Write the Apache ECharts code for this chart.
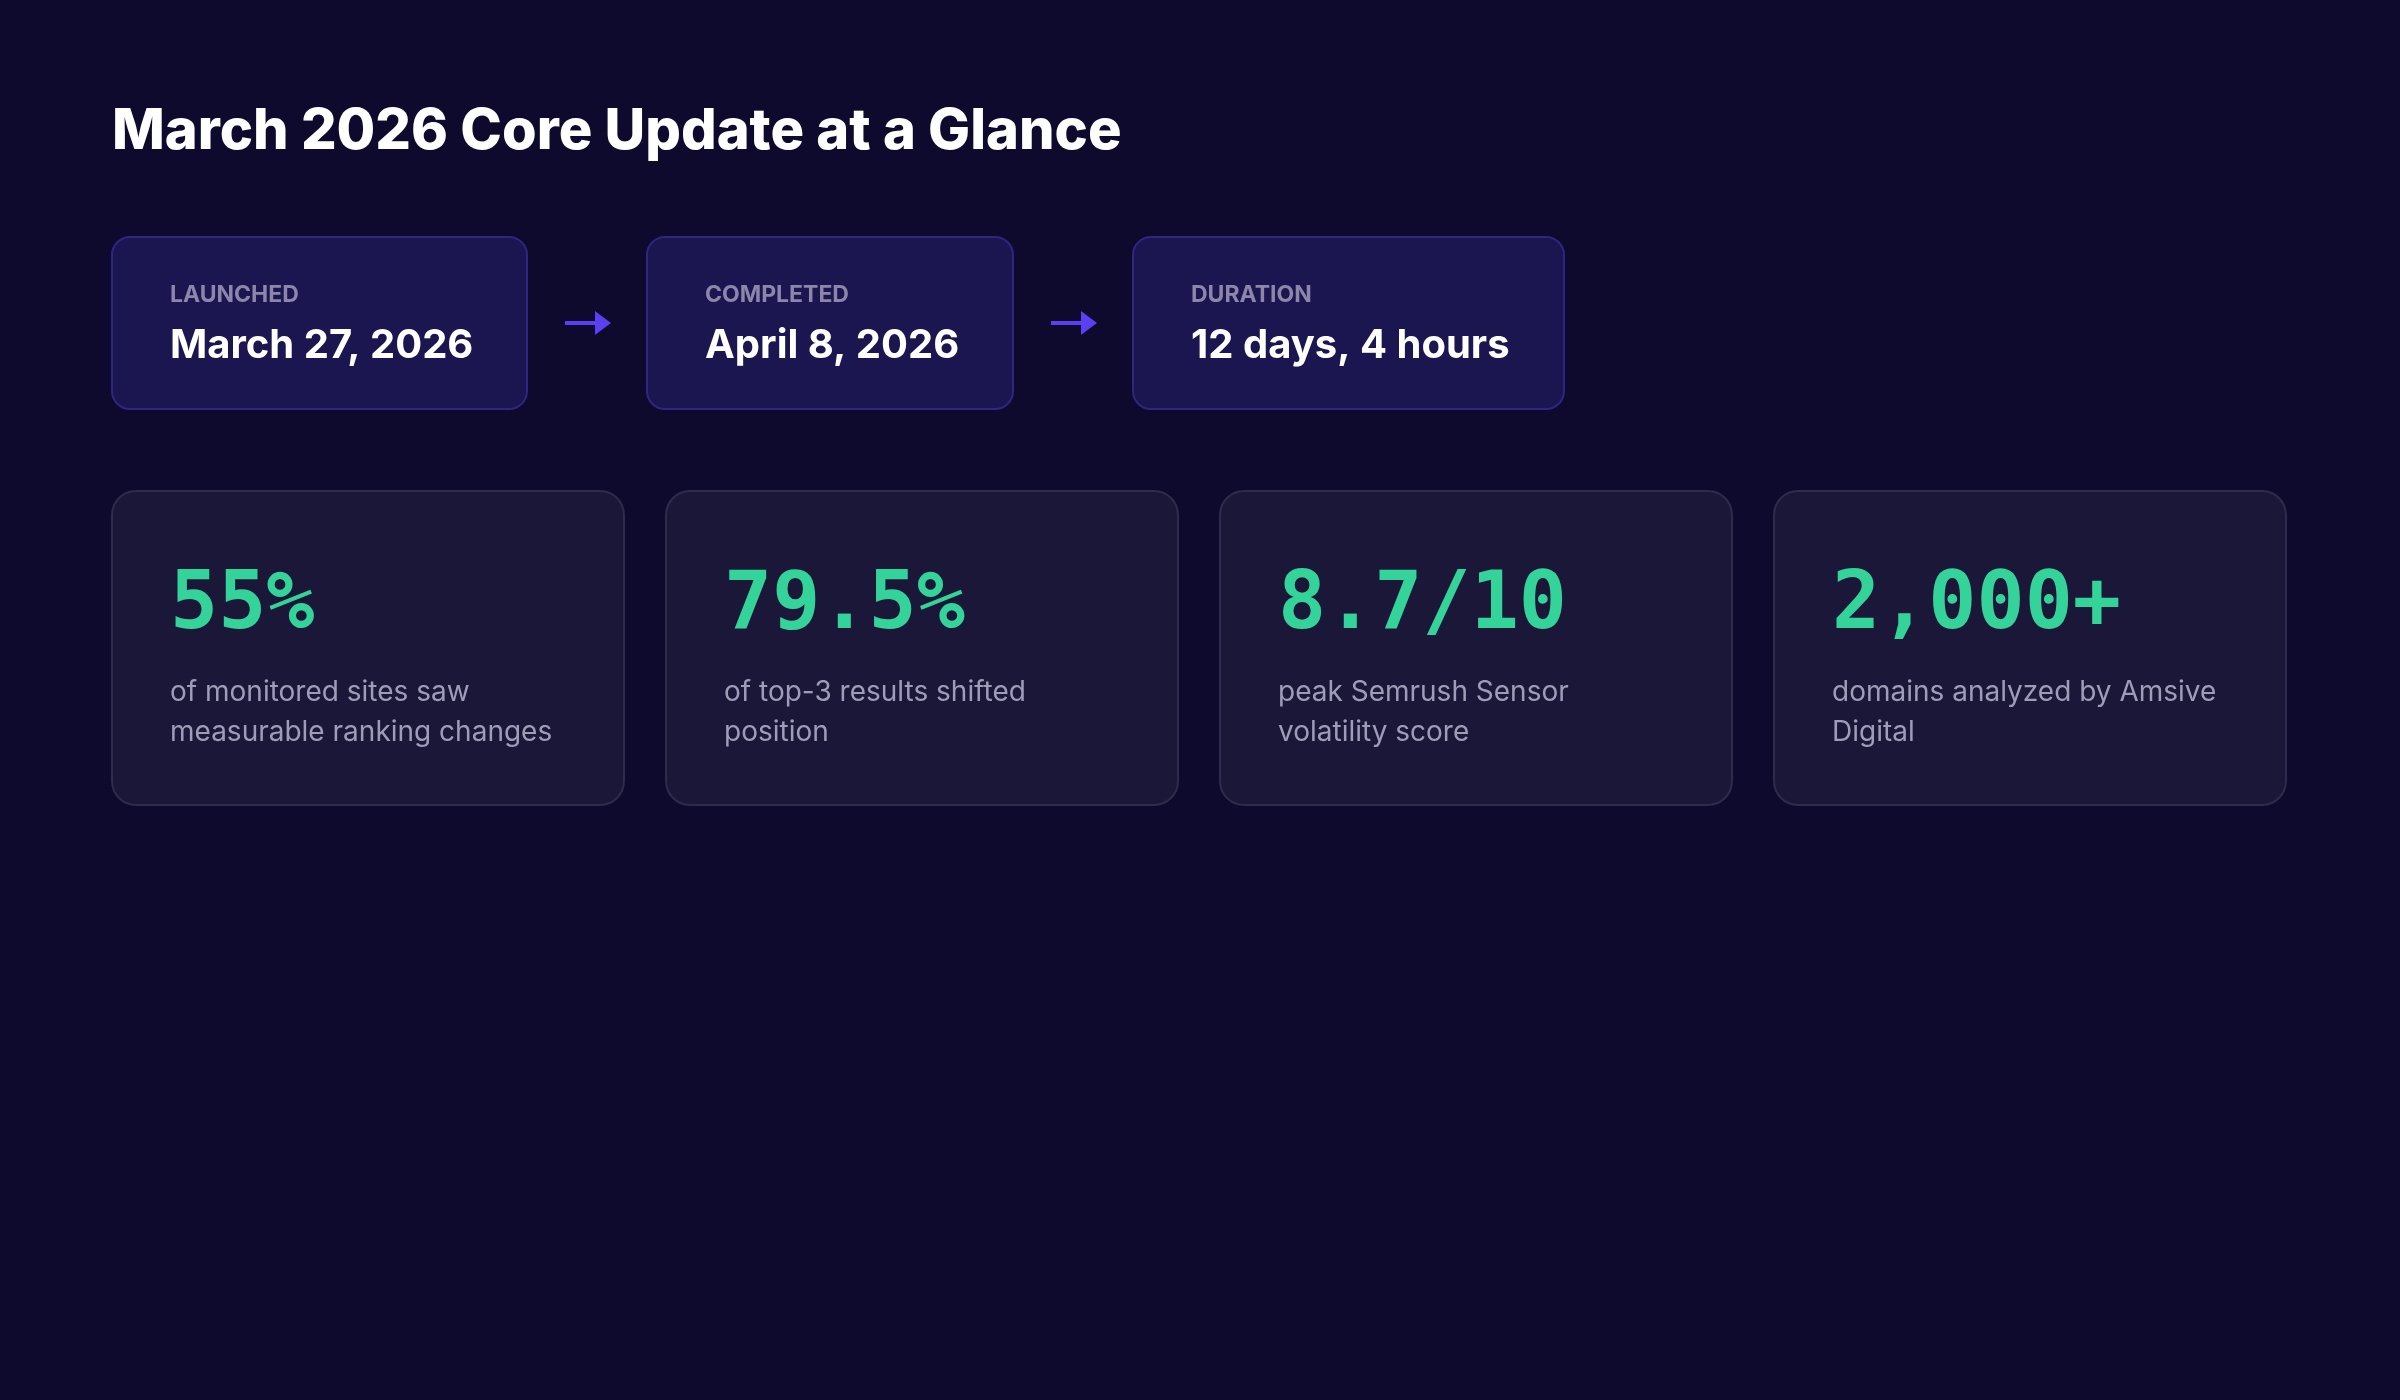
<!DOCTYPE html>
<html>
<head>
<meta charset="utf-8">
<script src="https://cdn.jsdelivr.net/npm/echarts@6/dist/echarts.min.js"></script>
<style>
html, body { margin: 0; padding: 0; background: #0e0a2e; }
#main { width: 2400px; height: 1400px; }
</style>
</head>
<body>
<div id="main"></div>
<script>
var title = 'March 2026 Core Update at a Glance';
var stepLabels = ['LAUNCHED', 'COMPLETED', 'DURATION'];
var stepValues = ['March 27, 2026', 'April 8, 2026', '12 days, 4 hours'];
var statValues = ['55%', '79.5%', '8.7/10', '2,000+'];
var statLines = [
	['of monitored sites saw', 'measurable ranking changes'],
	['of top-3 results shifted', 'position'],
	['peak Semrush Sensor', 'volatility score'],
	['domains analyzed by Amsive', 'Digital']
];

var font = 'Inter, "Noto Sans", sans-serif';
var ctx = document.createElement('canvas').getContext('2d');
ctx.font = 'bold 40px ' + font;

function build() {
	var els = [];
	els.push({
		type : 'text', left : 112, top : 104,
		style : { text : title, fill : '#ffffff', font : '800 56px ' + font }
	});

	// timeline steps
	var x = 112;
	for (var i = 0; i < stepLabels.length; i++) {
		var w = Math.round(ctx.measureText(stepValues[i]).width) + 112;
		els.push({
			type : 'rect',
			shape : { x : x, y : 237, width : w, height : 172, r : 18 },
			style : { fill : '#1b1550', stroke : '#2e2682', lineWidth : 2 }
		});
		els.push({
			type : 'text', x : x + 58, y : 295,
			style : { text : stepLabels[i], fill : '#8c86aa', font : 'bold 23px ' + font, verticalAlign : 'middle' }
		});
		els.push({
			type : 'text', x : x + 58, y : 346,
			style : { text : stepValues[i], fill : '#ffffff', font : 'bold 40px ' + font, verticalAlign : 'middle' }
		});
		x += w;
		if (i < stepLabels.length - 1) {
			var ax = x + 38;
			els.push({
				type : 'line',
				shape : { x1 : ax, y1 : 323, x2 : ax + 32, y2 : 323 },
				style : { stroke : '#5b3ff0', lineWidth : 4 }
			});
			els.push({
				type : 'polygon',
				shape : { points : [ [ ax + 30, 311 ], [ ax + 46, 323 ], [ ax + 30, 335 ] ] },
				style : { fill : '#5b3ff0' }
			});
			x += 120;
		}
	}

	// stat cards
	for (var j = 0; j < statValues.length; j++) {
		var cx = 112 + j * 554;
		els.push({
			type : 'rect',
			shape : { x : cx, y : 491, width : 512, height : 314, r : 24 },
			style : { fill : '#1b1739', stroke : '#2f2b4c', lineWidth : 2 }
		});
		els.push({
			type : 'text', x : cx + 58, y : 607,
			style : { text : statValues[j], fill : '#34d399', font : 'bold 80px "DejaVu Sans Mono", monospace', verticalAlign : 'middle' }
		});
		for (var k = 0; k < statLines[j].length; k++) {
			els.push({
				type : 'text', x : cx + 58, y : 693 + k * 40,
				style : { text : statLines[j][k], fill : '#a09cb8', font : '28px ' + font, verticalAlign : 'middle' }
			});
		}
	}
	return els;
}

var myChart = echarts.init(document.getElementById('main'));
myChart.setOption({
	backgroundColor : '#0e0a2e',
	graphic : { elements : build() }
});
</script>
</body>
</html>
